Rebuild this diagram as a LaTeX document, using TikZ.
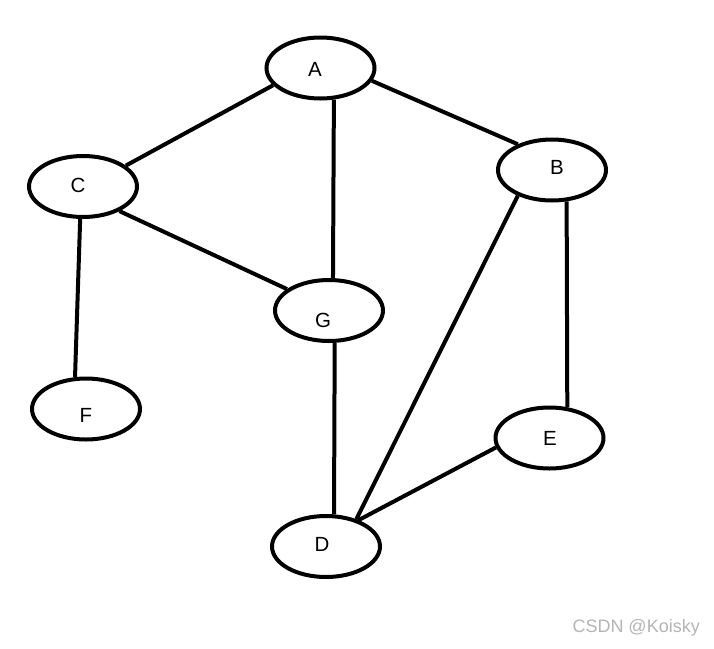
\documentclass[tikz,border=0pt]{standalone}
\usepackage{fontspec}
\setmainfont{Liberation Sans}
\usetikzlibrary{shapes.geometric}
\definecolor{wmgray}{RGB}{180,180,180}
\begin{document}
\begin{tikzpicture}[x=1pt,y=-1pt,
  vtx/.style={draw, ellipse, line width=4pt, minimum width=108pt, minimum height=61pt, inner sep=0pt},
  lab/.style={font=\fontsize{20.5}{20.5}\selectfont},
  edge/.style={line width=4pt}]
\useasboundingbox (0,0) rectangle (714,648);
\node[vtx, label={[lab,xshift=-5.5pt,yshift=-1pt]center:A}] (A) at (320.5,68) {};
\node[vtx, label={[lab,xshift=5pt,yshift=3pt]center:B}] (B) at (552,170) {};
\node[vtx, label={[lab,xshift=-5pt,yshift=1.5pt]center:C}] (C) at (83,186.5) {};
\node[vtx, label={[lab,xshift=-6pt,yshift=-9.5pt]center:G}] (G) at (329,310.5) {};
\node[vtx, label={[lab,xshift=0pt,yshift=-6pt]center:F}] (F) at (86,409) {};
\node[vtx, label={[lab,xshift=0.5pt,yshift=0pt]center:E}] (E) at (549.5,438) {};
\node[vtx, label={[lab,xshift=-4pt,yshift=2.5pt]center:D}] (D) at (326,546.5) {};
\draw[edge] (A.200) -- (C.26);
\draw[edge] (A.346) -- (B.143);
\draw[edge] (A.293) -- (G.83);
\draw[edge] (C.326) -- (G.153);
\draw[edge] (C.265) -- (F.109);
\draw[edge] (B.217) -- (D.42.5);
\draw[edge] (B.295) -- (E.60);
\draw[edge] (G.280) -- (D.76);
\draw[edge] (E.190) -- (D.39);
\node[anchor=east, text=wmgray, font=\fontsize{18}{18}\selectfont, inner sep=0pt] (wm) at (700,628) {CSDN @Koisky};
\end{tikzpicture}
\end{document}
